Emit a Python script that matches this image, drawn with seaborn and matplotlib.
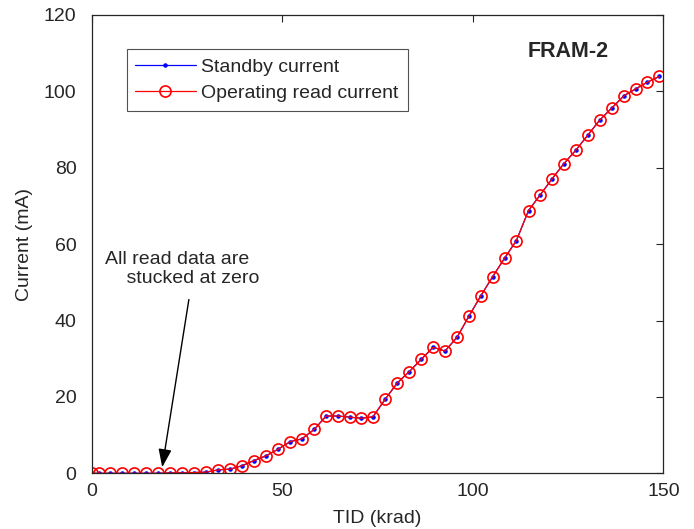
import matplotlib
matplotlib.use("Agg")
import matplotlib.pyplot as plt
import seaborn as sns

# dose steps (krad)
tid = [0, 1.9, 4.9, 8.0, 11.2, 14.3, 17.5, 20.6, 23.7, 26.8,
       30.0, 33.2, 36.4, 39.5, 42.5, 45.8, 48.9, 52.1, 55.1, 58.4,
       61.5, 64.6, 67.7, 70.7, 73.8, 77.0, 80.2, 83.3, 86.5, 89.6,
       92.7, 95.9, 99.0, 102.1, 105.2, 108.3, 111.4, 114.6, 117.6, 120.7,
       123.9, 127.1, 130.2, 133.3, 136.5, 139.7, 142.8, 145.8, 148.9]

standby_current = [0, 0, 0, 0, 0, 0, 0, 0.1, 0.1, 0.2,
                   0.3, 0.9, 1.1, 2.0, 3.3, 4.6, 6.3, 8.3, 9.0, 11.5,
                   15.0, 15.0, 14.7, 14.4, 14.8, 19.4, 23.7, 26.6, 29.9, 33.0,
                   32.0, 35.7, 41.2, 46.5, 51.5, 56.3, 60.9, 68.8, 72.8, 77.0,
                   81.1, 84.7, 88.6, 92.5, 95.7, 98.9, 100.7, 102.4, 103.9]

# the two curves lie on top of each other in the original
read_current = list(standby_current)

x_ticks = [0, 50, 100, 150]
y_ticks = [0, 20, 40, 60, 80, 100, 120]

sns.set_style("white")
plt.rcParams['font.family'] = ['Liberation Sans', 'DejaVu Sans']
axis_gray = '#262626'

fig = plt.figure(figsize=(6.94, 5.29), dpi=100)
ax = fig.add_axes([0.1321, 0.1053, 0.8239, 0.8664])

sns.lineplot(x=tid, y=standby_current, ax=ax, color='blue', linewidth=0.9,
             marker='.', markersize=6.5, markeredgewidth=0, label='Standby current')
sns.lineplot(x=tid, y=read_current, ax=ax, color='red', linewidth=0.9,
             marker='o', markersize=8, markerfacecolor='none', markeredgecolor='red',
             markeredgewidth=1.2, label='Operating read current')

ax.set_xlim(0, 150)
ax.set_ylim(0, 120)
ax.set_xticks(x_ticks)
ax.set_yticks(y_ticks)
ax.tick_params(direction='in', length=5, width=0.8, colors=axis_gray,
               labelsize=14, top=True, right=True)
ax.tick_params(axis='y', pad=11)
ax.tick_params(axis='x', pad=7)
for s in ax.spines.values():
    s.set_visible(True)
    s.set_color(axis_gray)
    s.set_linewidth(0.9)

ax.set_xlabel("TID (krad)", fontsize=14, color=axis_gray, labelpad=7)
ax.set_ylabel("Current (mA)", fontsize=14, color=axis_gray, labelpad=8)

leg = ax.legend(loc='upper left', bbox_to_anchor=(0.061, 0.925), fontsize=14,
                frameon=True, fancybox=False, handlelength=3.1, handletextpad=0.3,
                borderpad=0.45, labelspacing=0.45, borderaxespad=0)
leg.get_frame().set_edgecolor(axis_gray)
leg.get_frame().set_linewidth(0.8)

ax.text(0.833, 0.92, "FRAM-2", transform=ax.transAxes, fontsize=15.5,
        fontweight='bold', ha='center', va='center')

ax.text(3.5, 58.3, "All read data are\n    stucked at zero", fontsize=14,
        ha='left', va='top', linespacing=1.2)
ax.annotate('', xy=(18.5, 1.6), xytext=(25.5, 45.5),
            arrowprops=dict(arrowstyle='-|>,head_length=1.1,head_width=0.4',
                            color='black', linewidth=1.0, shrinkA=0, shrinkB=0))

fig.savefig("out.png", dpi=100)
